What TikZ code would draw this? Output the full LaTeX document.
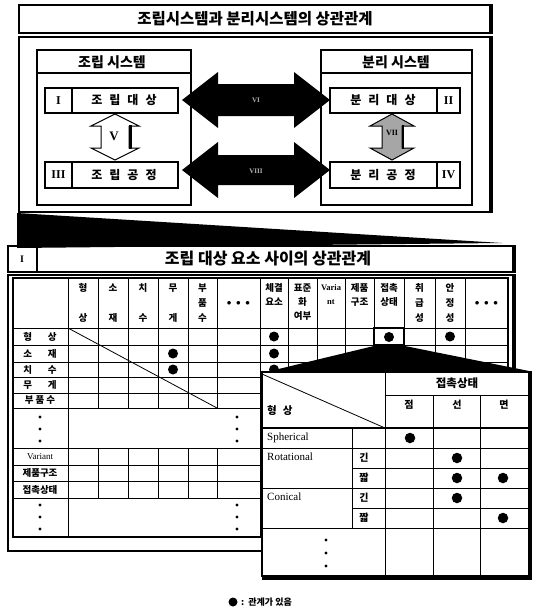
\documentclass[tikz,border=0pt]{standalone}
\usepackage{fontspec}
\setmainfont{Liberation Serif}
\newfontfamily\krf{Noto Sans CJK KR}
\begin{document}
\begin{tikzpicture}[x=1pt,y=-1pt,
  kr/.style={font=\krf\bfseries\fontsize{#1}{#1}\selectfont, inner sep=0pt},
  rn/.style={font=\bfseries\fontsize{#1}{#1}\selectfont, inner sep=0pt},
  sr/.style={font=\fontsize{#1}{#1}\selectfont, inner sep=0pt},
  sframe/.style={draw, line width=1.3pt},
  gl/.style={line width=0.8pt},
  cellbox/.style={draw, line width=1.1pt, inner sep=0pt},
  bdot/.style={circle, fill=black, minimum size=#1, inner sep=0pt}]
\useasboundingbox (0,0) rectangle (538,613);

% ---------------- top section ----------------
\draw[sframe] (19,5) rectangle (490,33);
\draw[line width=3pt] (491,4) -- (491,34);
\node[kr=15.5] (toptitle) at (255,19) {조립시스템과 분리시스템의 상관관계};
\draw[sframe] (19,37) rectangle (490,212);
\draw[line width=3pt] (491,36) -- (491,213);

% assembly system box
\draw[sframe] (37,50) rectangle (191,205);
\draw[sframe] (37,73) -- (191,73);
\node[kr=14] (lsys) at (112,62) {조립 시스템};
% disassembly system box
\draw[sframe] (321,50) rectangle (472,205);
\draw[sframe] (321,73) -- (472,73);
\node[kr=14] (rsys) at (396,62) {분리 시스템};

% inner boxes
\node[cellbox, minimum width=133pt, minimum height=25pt] (A) at (111.5,100.5) {};
\draw[line width=1.1pt] (72,88) -- (72,113);
\node[rn=12] (Anum) at (58.5,100.5) {I};
\node[kr=12] (Atxt) at (124,100.5) {조\hspace{7pt}립\hspace{7pt}대\hspace{7pt}상};

\node[cellbox, minimum width=133pt, minimum height=26pt] (C) at (111.5,175) {};
\draw[line width=1.1pt] (72,162) -- (72,188);
\node[rn=12] (Cnum) at (58.5,175) {III};
\node[kr=12] (Ctxt) at (124,175) {조\hspace{7pt}립\hspace{7pt}공\hspace{7pt}정};

\node[cellbox, minimum width=130pt, minimum height=25pt] (B) at (395,100.5) {};
\draw[line width=1.1pt] (437,88) -- (437,113);
\node[rn=12] (Bnum) at (448.5,100.5) {II};
\node[kr=12] (Btxt) at (383,100.5) {분\hspace{7pt}리\hspace{7pt}대\hspace{7pt}상};

\node[cellbox, minimum width=130pt, minimum height=26pt] (D) at (395,175) {};
\draw[line width=1.1pt] (437,162) -- (437,188);
\node[rn=12] (Dnum) at (448.5,175) {IV};
\node[kr=12] (Dtxt) at (383,175) {분\hspace{7pt}리\hspace{7pt}공\hspace{7pt}정};

% horizontal black double arrows
\fill (182,100) -- (218,72) -- (218,84) -- (294,84) -- (294,72) -- (330,100)
   -- (294,128) -- (294,116) -- (218,116) -- (218,128) -- cycle;
\node[rn=7, text=white!70!black] (h1) at (256,100) {VI};
\fill (182,170) -- (218,142) -- (218,155) -- (294,155) -- (294,142) -- (330,170)
   -- (294,198) -- (294,185) -- (218,185) -- (218,198) -- cycle;
\node[rn=7, text=white!70!black] (h2) at (256,171) {VIII};

% vertical white double arrows
\filldraw[fill=white, draw=black, line width=1pt]
  (115,114) -- (139,126) -- (129,126) -- (129,148) -- (139,148) -- (115,160)
  -- (91,148) -- (101,148) -- (101,126) -- (91,126) -- cycle;
\draw[line width=3pt] (130,125) -- (130,149);
\node[rn=13] (v1) at (114,136) {V};

\filldraw[fill=black!35, draw=black, line width=1pt]
  (392,114) -- (414,126) -- (402,126) -- (402,148) -- (414,148) -- (392,160)
  -- (370,148) -- (382,148) -- (382,126) -- (370,126) -- cycle;
\draw[line width=2.5pt] (403,125) -- (403,149);
\node[rn=8] (v2) at (392,133) {VII};

% zoom wedge
\fill (17,213) -- (502,243) -- (17,248) -- cycle;

% ---------------- table section ----------------
\draw[sframe] (8,246) rectangle (513,272);
\draw[line width=3pt] (514,245) -- (514,273);
\draw[line width=1.1pt] (37,246) -- (37,272);
\node[rn=10] (tnum) at (22,259) {I};
\node[kr=16] (ttitle) at (268,259) {조립 대상 요소 사이의 상관관계};

\draw[sframe] (8,275) rectangle (513,551);
\draw[line width=3pt] (514,274) -- (514,552);
\draw[line width=2.5pt] (8,551) -- (514,551);

% grid
\foreach \x in {68,98,128,158,188,217,260,288,317,345,374,404,435,465}
  \draw[gl] (\x,278) -- (\x,408);
\foreach \y in {328,345,362,377,393,408}
  \draw[gl] (13,\y) -- (508,\y);
\draw[gl] (68,408) -- (68,537);
\draw[gl] (260,408) -- (260,537);
\foreach \y in {448,465,481,498}
  \draw[gl] (13,\y) -- (260,\y);
\foreach \x in {98,128,158,188,217}
  \draw[gl] (\x,448) -- (\x,498);
\draw[line width=1.3pt] (13,278) rectangle (508,537);
\draw[gl] (68,328) -- (217,408);

% column headers
\node[kr=9.5] (h11) at (83,288) {형};   \node[kr=9.5] (h13) at (83,318) {상};
\node[kr=9.5] (h21) at (113,288) {소};  \node[kr=9.5] (h23) at (113,318) {재};
\node[kr=9.5] (h31) at (143,288) {치};  \node[kr=9.5] (h33) at (143,318) {수};
\node[kr=9.5] (h41) at (173,288) {무};  \node[kr=9.5] (h43) at (173,318) {게};
\node[kr=9.5] (h51) at (202.5,288) {부}; \node[kr=9.5] (h52) at (202.5,303) {품}; \node[kr=9.5] (h53) at (202.5,318) {수};
\node[rn=9] (h6) at (238.5,303) {$\bullet\;\bullet\;\bullet$};
\node[kr=9.5] (h71) at (274,288) {체결}; \node[kr=9.5] (h72) at (274,302) {요소};
\node[kr=9.5] (h81) at (302.5,288) {표준}; \node[kr=9.5] (h82) at (302.5,302) {화}; \node[kr=9.5] (h83) at (302.5,316) {여부};
\node[rn=8.5] (h91) at (331,288) {Varia}; \node[rn=8.5] (h92) at (331,302) {nt};
\node[kr=9.5] (h101) at (359.5,288) {제품}; \node[kr=9.5] (h102) at (359.5,302) {구조};
\node[kr=9.5] (h111) at (389,288) {접촉}; \node[kr=9.5] (h112) at (389,302) {상태};
\node[kr=9.5] (h121) at (419.5,288) {취}; \node[kr=9.5] (h122) at (419.5,303) {급}; \node[kr=9.5] (h123) at (419.5,318) {성};
\node[kr=9.5] (h131) at (450,288) {안}; \node[kr=9.5] (h132) at (450,303) {정}; \node[kr=9.5] (h133) at (450,318) {성};
\node[rn=9] (h14) at (486.5,303) {$\bullet\;\bullet\;\bullet$};

% row headers
\node[kr=9.5] (r1) at (40,336.5) {형\hspace{16pt}상};
\node[kr=9.5] (r2) at (40,353.5) {소\hspace{16pt}재};
\node[kr=9.5] (r3) at (40,369.5) {치\hspace{16pt}수};
\node[kr=9.5] (r4) at (40,385) {무\hspace{16pt}게};
\node[kr=9.5] (r5) at (40,400.5) {부\hspace{2pt}품\hspace{2pt}수};
\foreach \yy in {417,429,441} {
  \fill (40,\yy) circle (1.6);
  \fill (237,\yy) circle (1.6);
}
\node[sr=9] (r6) at (40,456.5) {Variant};
\node[kr=9.5] (r7) at (40,473) {제품구조};
\node[kr=9.5] (r8) at (40,489.5) {접촉상태};
\foreach \yy in {505,517,529} {
  \fill (40,\yy) circle (1.6);
  \fill (237,\yy) circle (1.6);
}

% relation dots
\node[bdot=10pt] (d1) at (274,336.5) {};
\node[bdot=10pt] (d2) at (173,353.5) {};
\node[bdot=10pt] (d3) at (274,353.5) {};
\node[bdot=10pt] (d4) at (173,369.5) {};
\node[bdot=10pt] (d5) at (274,369.5) {};
\node[bdot=10pt] (d6) at (389,337) {};
\node[bdot=10pt] (d7) at (450,336.5) {};

% highlighted cell and zoom cone
\draw[line width=1.6pt] (374,328) rectangle (404,345);
\fill (378,345) -- (400,345) -- (529,371) -- (262,373) -- cycle;

% ---------------- overlay table ----------------
\fill[white] (262,372) rectangle (529,576);
\draw[line width=1.2pt] (262,372) rectangle (529,576);
\draw[line width=3.5pt] (530,371) -- (530,578) -- (262,578);
\draw[gl] (385,372) -- (385,576);
\draw[gl] (385,395) -- (529,395);
\draw[gl] (433,395) -- (433,576);
\draw[gl] (480,395) -- (480,576);
\draw[line width=1.1pt] (262,428) -- (529,428);
\draw[gl] (262,374) -- (385,428);
\foreach \y in {448,488,528} \draw[gl] (262,\y) -- (529,\y);
\foreach \y in {468,508} \draw[gl] (352,\y) -- (529,\y);
\draw[gl] (352,428) -- (352,528);

\node[kr=11.5] (o0) at (457,383.5) {접촉상태};
\node[kr=10] (o1) at (409,405) {점};
\node[kr=10] (o2) at (457,405) {선};
\node[kr=10] (o3) at (504,405) {면};
\node[kr=10.5, anchor=west] (o4) at (267,411) {형\hspace{6pt}상};
\node[sr=11, anchor=west] (s1) at (267,438) {Spherical};
\node[sr=11, anchor=west] (s2) at (267,457) {Rotational};
\node[sr=11, anchor=west] (s3) at (267,497) {Conical};
\node[kr=10] (k1) at (364,458) {긴};
\node[kr=10] (k2) at (364,478) {짧};
\node[kr=10] (k3) at (364,498) {긴};
\node[kr=10] (k4) at (364,518) {짧};
\node[bdot=10.5pt] (e1) at (410,438) {};
\node[bdot=10.5pt] (e2) at (457,458) {};
\node[bdot=10.5pt] (e3) at (457,478) {};
\node[bdot=10.5pt] (e4) at (503,478) {};
\node[bdot=10.5pt] (e5) at (457,498) {};
\node[bdot=10.5pt] (e6) at (503,518) {};
\foreach \yy in {540,553,566} \fill (326,\yy) circle (1.6);

% legend
\node[bdot=9pt] (ldot) at (233,602) {};
\node[kr=9, anchor=west] (ltxt) at (241,602) {:\hspace{4pt}관계가 있음};
\end{tikzpicture}
\end{document}
